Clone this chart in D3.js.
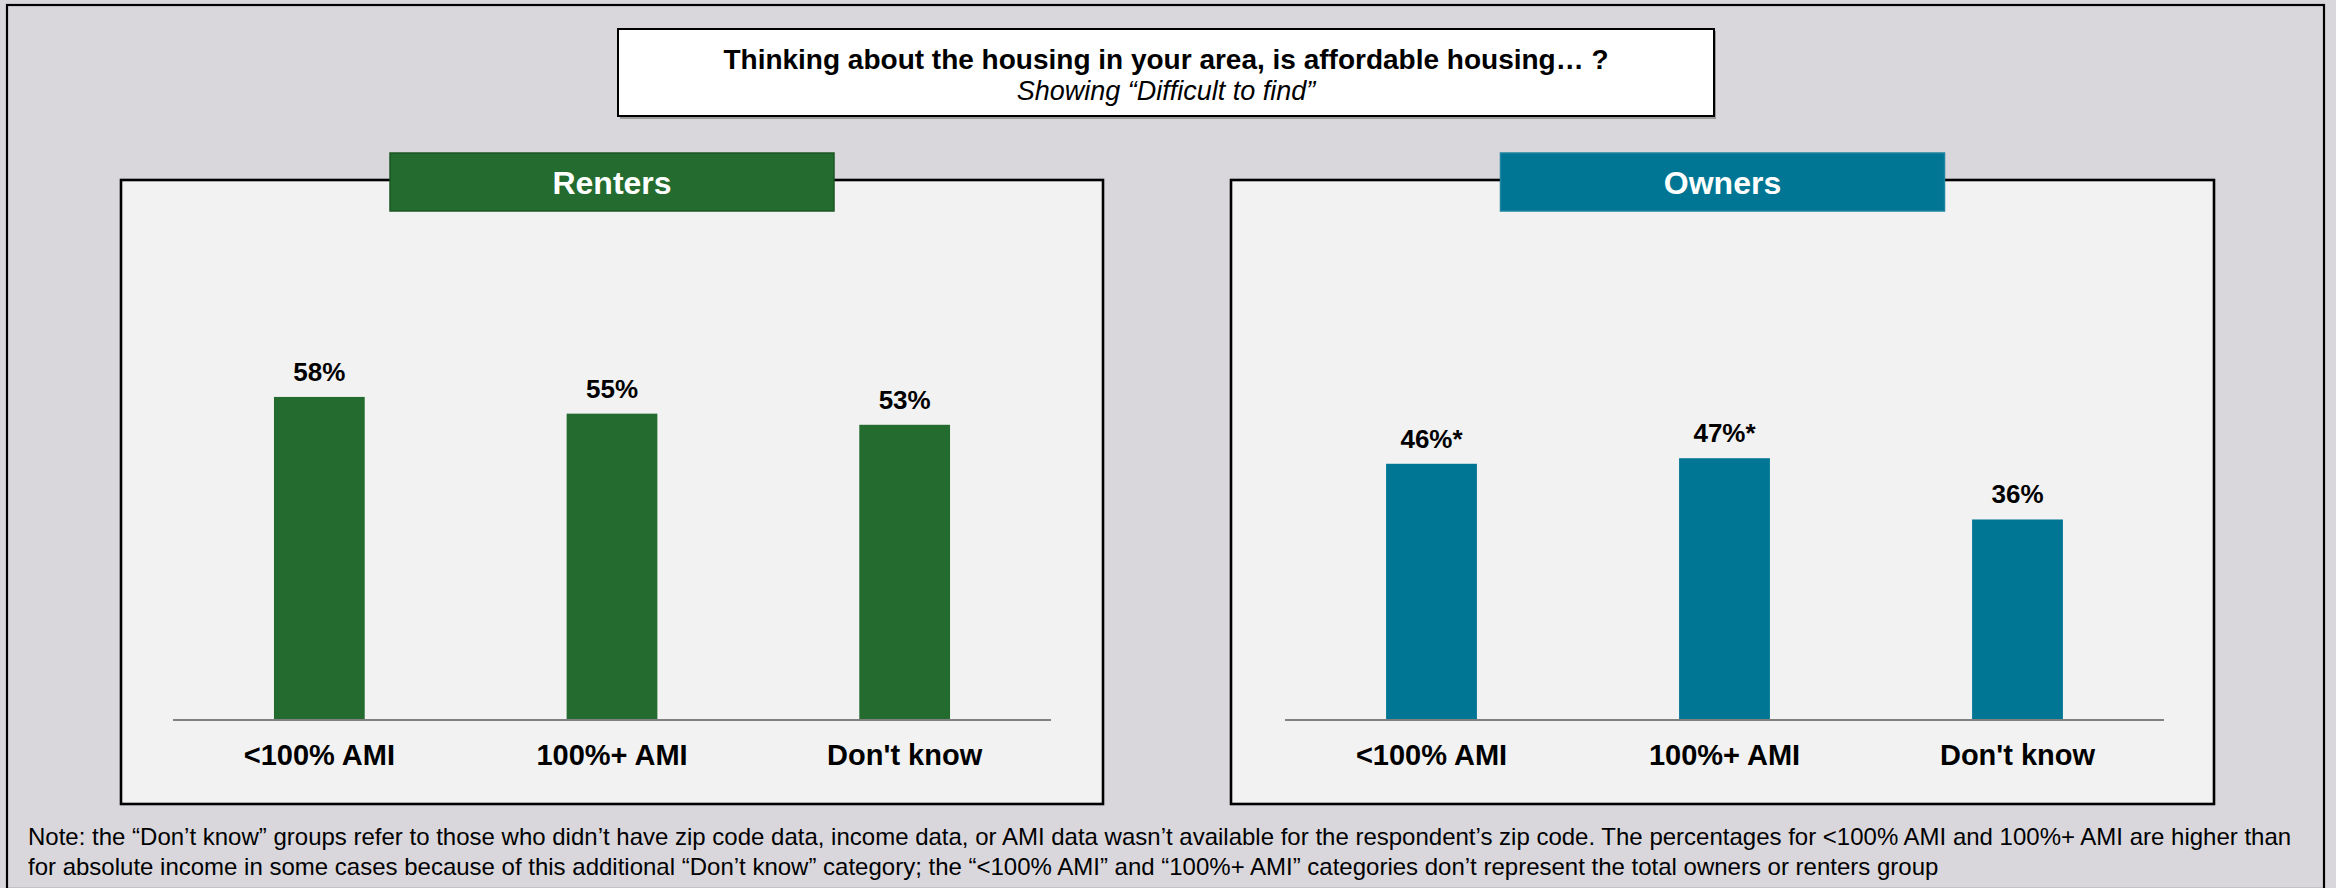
<!DOCTYPE html>
<html>
<head>
<meta charset="utf-8">
<script src="https://cdn.jsdelivr.net/npm/d3@7"></script>
<style>
  html, body { margin: 0; padding: 0; background: #d9d7dc; }
  svg { display: block; font-family: "Liberation Sans", Arial, sans-serif; }
</style>
</head>
<body>
<svg id="chart" width="2336" height="888"></svg>
<script>
// Survey results: share saying affordable housing is "Difficult to find"
const categories = ["<100% AMI", "100%+ AMI", "Don't know"];
const renterValues = [58, 55, 53];
const ownerValues = [46, 47, 36];
const renterLabels = ["58%", "55%", "53%"];
const ownerLabels = ["46%*", "47%*", "36%"];

const titleText = "Thinking about the housing in your area, is affordable housing\u2026 ?";
const subtitleText = "Showing \u201cDifficult to find\u201d";
const noteLines = [
  "Note: the \u201cDon\u2019t know\u201d groups refer to those who didn\u2019t have zip code data, income data, or AMI data wasn\u2019t available for the respondent\u2019s zip code. The percentages for <100% AMI and 100%+ AMI are higher than",
  "for absolute income in some cases because of this additional \u201cDon\u2019t know\u201d category; the \u201c<100% AMI\u201d and \u201c100%+ AMI\u201d categories don\u2019t represent the total owners or renters group"
];

const svg = d3.select("#chart");

// page background and outer frame
svg.append("rect").attr("x", 0).attr("y", 0).attr("width", 2336).attr("height", 888).attr("fill", "#d9d7dc");
svg.append("rect").attr("x", 7).attr("y", 5).attr("width", 2317).attr("height", 884)
  .attr("fill", "none").attr("stroke", "#000").attr("stroke-width", 2.2);

// title box
svg.append("rect").attr("x", 620).attr("y", 31).attr("width", 1096).attr("height", 88).attr("fill", "#9a9a9a");
svg.append("rect").attr("x", 618).attr("y", 29).attr("width", 1096).attr("height", 87)
  .attr("fill", "#fff").attr("stroke", "#000").attr("stroke-width", 2);
svg.append("text").attr("x", 1166).attr("y", 69).attr("text-anchor", "middle")
  .attr("font-size", 28).attr("font-weight", "bold").attr("fill", "#000").text(titleText);
svg.append("text").attr("x", 1166).attr("y", 100).attr("text-anchor", "middle")
  .attr("font-size", 27).attr("font-style", "italic").attr("fill", "#000").text(subtitleText);

// y scale shared by both panels
const y = d3.scaleLinear().domain([0, 100]).range([720, 163]);

function panel(opts) {
  const g = svg.append("g");
  // panel frame
  g.append("rect").attr("x", opts.x0).attr("y", 180).attr("width", opts.x1 - opts.x0).attr("height", 624)
    .attr("fill", "#f2f2f2").attr("stroke", "#000").attr("stroke-width", 2.6);

  // header tab
  const hx = (opts.x0 + opts.x1) / 2;
  g.append("rect").attr("x", hx - 222).attr("y", 153).attr("width", 444).attr("height", 58)
    .attr("fill", opts.color).attr("stroke", opts.headStroke).attr("stroke-width", 1.5);
  g.append("text").attr("x", hx).attr("y", 194).attr("text-anchor", "middle")
    .attr("font-size", 32).attr("font-weight", "bold").attr("fill", "#fff").text(opts.name);

  const x = d3.scaleBand().domain(categories)
    .range([opts.ax0, opts.ax1]).paddingInner(0.69).paddingOuter(0.345);

  g.selectAll("rect.bar").data(opts.values).join("rect").attr("class", "bar")
    .attr("x", (d, i) => x(categories[i]))
    .attr("y", d => y(d))
    .attr("width", x.bandwidth())
    .attr("height", d => y(0) - y(d))
    .attr("fill", opts.color);

  g.selectAll("text.val").data(opts.values).join("text").attr("class", "val")
    .attr("x", (d, i) => x(categories[i]) + x.bandwidth() / 2)
    .attr("y", d => y(d) - 16)
    .attr("text-anchor", "middle").attr("font-size", 26).attr("font-weight", "bold").attr("fill", "#000")
    .text((d, i) => opts.labels[i]);

  // category axis
  const axis = g.append("g").attr("transform", `translate(0,${y(0)})`)
    .call(d3.axisBottom(x).tickSize(0).tickPadding(0).tickSizeOuter(0));
  axis.select(".domain").attr("stroke", "#808080").attr("stroke-width", 2)
    .attr("d", `M${opts.ax0},0H${opts.ax1}`);
  axis.selectAll(".tick text").attr("dy", null).attr("y", 45)
    .attr("font-family", "Liberation Sans, Arial, sans-serif")
    .attr("font-size", 29).attr("font-weight", "bold").attr("fill", "#000");
}

panel({ name: "Renters", x0: 121, x1: 1103, ax0: 173, ax1: 1051,
        values: renterValues, labels: renterLabels, color: "#236b2e", headStroke: "#1b5724" });
panel({ name: "Owners", x0: 1231, x1: 2214, ax0: 1285, ax1: 2164,
        values: ownerValues, labels: ownerLabels, color: "#007694", headStroke: "#1f84a0" });

// footnote
svg.append("g").selectAll("text").data(noteLines).join("text")
  .attr("x", 28).attr("y", (d, i) => 845 + i * 30)
  .attr("font-size", 24).attr("fill", "#000").text(d => d);
</script>
</body>
</html>
